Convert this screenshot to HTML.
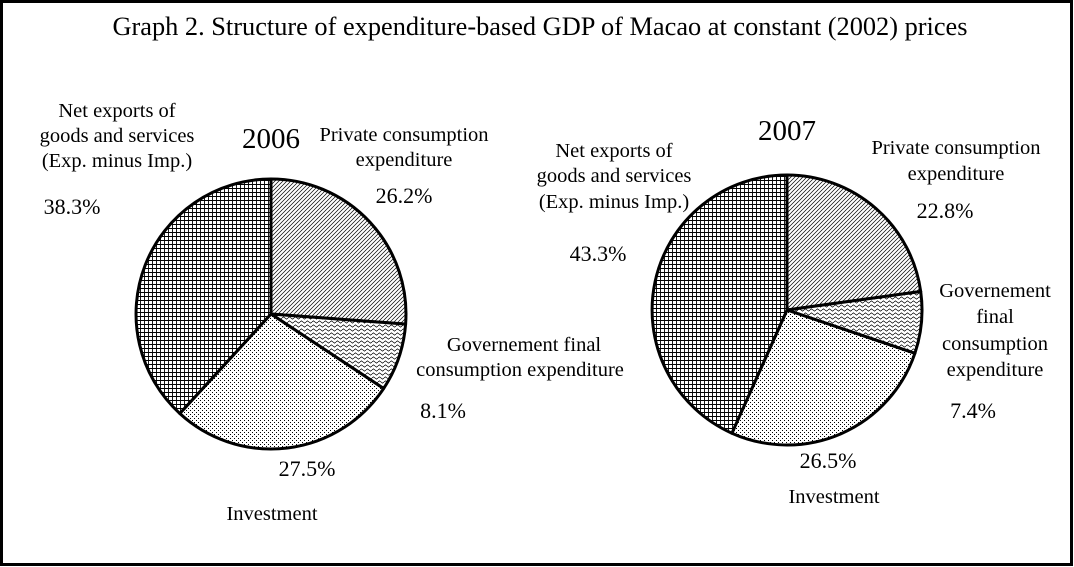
<!DOCTYPE html>
<html><head><meta charset="utf-8"><style>
html,body{margin:0;padding:0;background:#fff}
svg{display:block}
text{font-family:"Liberation Serif",serif;fill:#000}
</style></head><body>
<svg width="1074" height="567" viewBox="0 0 1074 567" xmlns="http://www.w3.org/2000/svg">
<defs>
<pattern id="diag" width="4" height="4" patternUnits="userSpaceOnUse"><rect width="4" height="4" fill="#fff"/><path d="M-1,5 L5,-1 M-1,1 L1,-1 M3,5 L5,3" stroke="#000" stroke-width="0.7"/></pattern>
<pattern id="wave" width="6" height="4" patternUnits="userSpaceOnUse"><rect width="6" height="4" fill="#fff"/><path d="M0,2 L1.5,0.8 L3,2 L4.5,3.2 L6,2" stroke="#000" stroke-width="0.7" fill="none"/></pattern>
<pattern id="dots" width="4" height="4" patternUnits="userSpaceOnUse"><rect width="4" height="4" fill="#fff"/><rect x="0" y="0" width="1" height="1" fill="#000"/><rect x="2" y="2" width="1" height="1" fill="#000"/></pattern>
<pattern id="grid" width="4" height="4" patternUnits="userSpaceOnUse"><rect width="4" height="4" fill="#fff"/><path d="M0,0.5 H4 M0.5,0 V4" stroke="#000" stroke-width="0.9"/></pattern>
</defs>
<rect x="1.5" y="1.5" width="1070" height="563" fill="#fff" stroke="#000" stroke-width="3"/>
<text x="540" y="35" font-size="26" text-anchor="middle" textLength="855" lengthAdjust="spacingAndGlyphs">Graph 2. Structure of expenditure-based GDP of Macao at constant (2002) prices</text>

<g stroke="#000" stroke-width="3" stroke-linejoin="round">
<path d="M271,314 L271,179 A135,135 0 0 1 405.6,324.1 Z" fill="url(#diag)"/>
<path d="M271,314 L405.6,324.1 A135,135 0 0 1 383.6,388.5 Z" fill="url(#wave)"/>
<path d="M271,314 L383.6,388.5 A135,135 0 0 1 179.8,413.5 Z" fill="url(#dots)"/>
<path d="M271,314 L179.8,413.5 A135,135 0 0 1 271,179 Z" fill="url(#grid)"/>

<path d="M787,310 L787,175 A135,135 0 0 1 920.7,291.5 Z" fill="url(#diag)"/>
<path d="M787,310 L920.7,291.5 A135,135 0 0 1 914.9,353.3 Z" fill="url(#wave)"/>
<path d="M787,310 L914.9,353.3 A135,135 0 0 1 731.9,433.2 Z" fill="url(#dots)"/>
<path d="M787,310 L731.9,433.2 A135,135 0 0 1 787,175 Z" fill="url(#grid)"/>
</g>

<g font-size="20.5">
<text x="271" y="148" font-size="29" text-anchor="middle">2006</text>
<text x="117" y="117" text-anchor="middle">Net exports of</text>
<text x="117" y="142" text-anchor="middle">goods and services</text>
<text x="117" y="167" text-anchor="middle">(Exp. minus Imp.)</text>
<text x="72" y="214" font-size="22" text-anchor="middle">38.3%</text>
<text x="404" y="141" text-anchor="middle">Private consumption</text>
<text x="404" y="166" text-anchor="middle">expenditure</text>
<text x="404" y="203" font-size="22" text-anchor="middle">26.2%</text>
<text x="524" y="351" text-anchor="middle">Governement final</text>
<text x="520" y="376" text-anchor="middle">consumption expenditure</text>
<text x="443" y="418" font-size="22" text-anchor="middle">8.1%</text>
<text x="307" y="476" font-size="22" text-anchor="middle">27.5%</text>
<text x="272" y="520" text-anchor="middle">Investment</text>

<text x="787" y="140" font-size="29" text-anchor="middle">2007</text>
<text x="614" y="157" text-anchor="middle">Net exports of</text>
<text x="614" y="182" text-anchor="middle">goods and services</text>
<text x="614" y="208" text-anchor="middle">(Exp. minus Imp.)</text>
<text x="598" y="261" font-size="22" text-anchor="middle">43.3%</text>
<text x="956" y="154" text-anchor="middle">Private consumption</text>
<text x="956" y="180" text-anchor="middle">expenditure</text>
<text x="945" y="218" font-size="22" text-anchor="middle">22.8%</text>
<text x="995" y="297" text-anchor="middle">Governement</text>
<text x="995" y="323" text-anchor="middle">final</text>
<text x="995" y="350" text-anchor="middle">consumption</text>
<text x="995" y="376" text-anchor="middle">expenditure</text>
<text x="973" y="418" font-size="22" text-anchor="middle">7.4%</text>
<text x="828" y="468" font-size="22" text-anchor="middle">26.5%</text>
<text x="834" y="503" text-anchor="middle">Investment</text>
</g>
</svg>
</body></html>
